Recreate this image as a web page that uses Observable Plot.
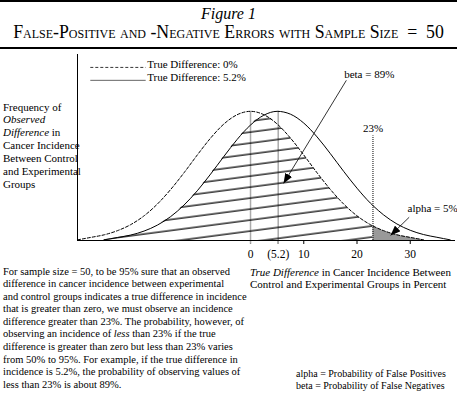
<!DOCTYPE html>
<html><head><meta charset="utf-8">
<script src="https://cdn.jsdelivr.net/npm/d3@7"></script>
<script src="https://cdn.jsdelivr.net/npm/@observablehq/plot@0.6"></script>
<style>
body{margin:0;background:#fff;}
#page{position:relative;width:457px;height:393px;overflow:hidden;font-family:"Liberation Serif","Times New Roman",serif;color:#000;background:#fff;}
.abs{position:absolute;white-space:nowrap;}
#topline{position:absolute;left:0;top:0;width:457px;border-top:2px solid #000;}
#rule{position:absolute;left:0;top:47px;width:457px;border-top:2.5px solid #000;}
#title{top:5px;left:0;width:457px;text-align:center;font-style:italic;font-size:16px;line-height:18px;}
#subtitle{top:23px;left:0;width:457px;text-align:center;font-variant:small-caps;font-size:17.8px;line-height:19px;}
#ylabel{left:3px;top:100.5px;font-size:11px;line-height:12.9px;}
#xlabel{left:250px;top:265.5px;font-size:11px;line-height:12.6px;}
#caption{left:3px;top:265.7px;font-size:10.5px;line-height:12.55px;}
#notes{left:296px;top:367.5px;font-size:10px;line-height:12.8px;}
#chart{position:absolute;left:0;top:50px;}
</style></head>
<body>
<svg width="0" height="0" style="position:absolute">
<defs>
<pattern id="hatch" patternUnits="userSpaceOnUse" width="60" height="10.9" patternTransform="rotate(-7.5)">
<line x1="-5" y1="5" x2="65" y2="5" stroke="#000" stroke-width="1.3"/>
</pattern>
<marker id="ahead" viewBox="0 0 10 8" refX="10" refY="4" markerWidth="10" markerHeight="8" markerUnits="userSpaceOnUse" orient="auto">
<path d="M0,0L10,4L0,8z" fill="#000"/>
</marker>
</defs>
</svg>
<div id="page">
<div id="topline"></div>
<div id="title" class="abs">Figure 1</div>
<div id="subtitle" class="abs">False-Positive and -Negative Errors with Sample Size &nbsp;=&nbsp; 50</div>
<div id="rule"></div>
<div id="chart"></div>
<div id="ylabel" class="abs">Frequency of<br><i>Observed</i><br><i>Difference</i> in<br>Cancer Incidence<br>Between Control<br>and Experimental<br>Groups</div>
<div id="xlabel" class="abs"><i>True Difference</i> in Cancer Incidence Between<br>Control and Experimental Groups in Percent</div>
<div id="caption" class="abs">For sample size = 50, to be 95% sure that an observed<br>difference in cancer incidence between experimental<br>and control groups indicates a true difference in incidence<br>that is greater than zero, we must observe an incidence<br>difference greater than 23%. The probability, however, of<br>observing an incidence of <i>less</i> than 23% if the true<br>difference is greater than zero but less than 23% varies<br>from 50% to 95%. For example, if the true difference in<br>incidence is 5.2%, the probability of observing values of<br>less than 23% is about 89%.</div>
<div id="notes" class="abs">alpha = Probability of False Positives<br>beta = Probability of False Negatives</div>
</div>
<script>
// ---- data ----
const xDomain = [-32.5, 38.5];
const yDomain = [0, 144];
const xTicks = [0, 5.2, 10, 20, 30];
const xTickLabels = ["0", "(5.2)", "10", "20", "30"];

// True difference 0% (dashed curve)
const dashX = [-32.5, -30, -27.5, -25, -22.5, -20, -17.5, -15, -12.5, -10, -7.5, -5, -2.5, 0, 2.5, 5, 7.5, 10, 12.5, 15, 17.5, 20, 22.5, 23, 25, 27.5, 30, 32.5];
const dashY = [0.5, 2.4, 4.4, 7.6, 12.3, 19.1, 28.2, 39.5, 52.4, 66.2, 79.3, 90.2, 97.4, 100, 97.4, 90.2, 79.3, 66.2, 52.4, 39.5, 28.2, 19.1, 12.3, 11.2, 7.6, 4.4, 2.4, 0.5];

// True difference 5.2% (solid curve)
const solidX = [-27.5, -25, -22.5, -20, -17.5, -15, -12.5, -10, -7.5, -5, -2.5, 0, 2.5, 5, 7.5, 10, 12.5, 15, 17.5, 20, 22.5, 23, 25, 27.5, 30, 32.5, 35, 37.5];
const solidY = [0.5, 2.3, 4.2, 7.3, 11.9, 18.5, 27.4, 38.5, 51.4, 65.1, 78.3, 89.4, 97.0, 100, 97.8, 90.9, 80.2, 67.2, 53.5, 40.5, 29.0, 27.0, 19.8, 12.8, 7.9, 4.6, 2.5, 0.5];

const centers = [0, 5.2];
const centerPeaks = [100, 100];
const threshold = 23;
const thresholdTop = 81;
const thresholdLabel = "23%";

const legendLabels = ["True Difference: 0%", "True Difference: 5.2%"];
const legendDash = ["3,2", null];
const legendLineY = [134, 124];
const legendTextY = [136.6, 126.6];
const legendX1 = -30, legendX2 = -19.6;

const annLabels = ["beta = 89%", "alpha = 5%"];
const annX = [22.3, 34.2];
const annY = [128.7, 24.8];
const arrowX1 = [18.0, 29.8];
const arrowY1 = [124.0, 18.0];
const arrowX2 = [6.2, 26.3];
const arrowY2 = [44.2, 3.9];

// ---- tables ----
const dashed = dashX.map((x, i) => ({x, y: dashY[i]}));
const solid = solidX.map((x, i) => ({x, y: solidY[i]}));
const dashAt = new Map(dashed.map(d => [d.x, d.y]));
const hatch = solid.filter(d => d.x <= threshold).map(d => ({x: d.x, y: Math.min(d.y, dashAt.get(d.x))}));
const alphaArea = dashed.filter(d => d.x >= threshold);
const centerRules = centers.map((x, i) => ({x, y2: centerPeaks[i]}));
const legend = legendLabels.map((label, i) => ({label, dash: legendDash[i], y: legendLineY[i], ty: legendTextY[i]}));
const ann = annLabels.map((label, i) => ({label, x: annX[i], y: annY[i], x1: arrowX1[i], y1: arrowY1[i], x2: arrowX2[i], y2: arrowY2[i]}));

const serif = '"Liberation Serif","Times New Roman",serif';
const curve = "monotone-x";
const chart = Plot.plot({
  width: 457, height: 215,
  marginLeft: 77, marginRight: 2, marginTop: 4, marginBottom: 25,
  style: {fontFamily: serif, fontSize: "11px", background: "transparent", color: "#000"},
  x: {domain: xDomain, label: null},
  y: {domain: yDomain, axis: null},
  marks: [
    Plot.axisX({ticks: xTicks, tickFormat: d => xTickLabels[xTicks.indexOf(d)], tickSize: 4, tickPadding: 5, fontSize: 11.5, fontFamily: serif, label: null}),
    Plot.ruleX(centerRules, {x: "x", y1: -3, y2: "y2", stroke: "#aaa", strokeWidth: 1.5}),
    Plot.areaY(hatch, {x: "x", y: "y", fill: "url(#hatch)", curve}),
    Plot.areaY(alphaArea, {x: "x", y: "y", fill: "#999", curve}),
    Plot.ruleX([threshold], {y1: 0, y2: thresholdTop, stroke: "#000", strokeWidth: 1, strokeDasharray: "1,1"}),
    Plot.text([thresholdLabel], {x: threshold, y: thresholdTop + 6, text: d => d, fontSize: 11, fontFamily: serif}),
    Plot.line(dashed, {x: "x", y: "y", stroke: "#000", strokeWidth: 1, strokeDasharray: "3,2", curve}),
    Plot.line(solid, {x: "x", y: "y", stroke: "#000", strokeWidth: 1, curve}),
    Plot.ruleY([0], {stroke: "#000", strokeWidth: 1}),
    Plot.ruleX([xDomain[0]], {stroke: "#000", strokeWidth: 1}),
    Plot.link(ann, {x1: "x1", y1: "y1", x2: "x2", y2: "y2", stroke: "#000", strokeWidth: 0.8}),
    Plot.text(ann, {x: "x", y: "y", text: "label", fontSize: 11, fontFamily: serif}),
    Plot.ruleY(legend.filter(d => d.dash), {y: "y", x1: legendX1, x2: legendX2, stroke: "#000", strokeWidth: 0.8, strokeDasharray: "3,2"}),
    Plot.ruleY(legend.filter(d => !d.dash), {y: "y", x1: legendX1, x2: legendX2, stroke: "#666", strokeWidth: 1}),
    Plot.text(legend, {x: legendX2, y: "ty", text: "label", textAnchor: "start", dx: 1, fontSize: 11, fontFamily: serif})
  ]
});
document.getElementById("chart").appendChild(chart);
chart.querySelectorAll('g[aria-label="link"] path').forEach(p => p.setAttribute("marker-end", "url(#ahead)"));
</script>
</body></html>
